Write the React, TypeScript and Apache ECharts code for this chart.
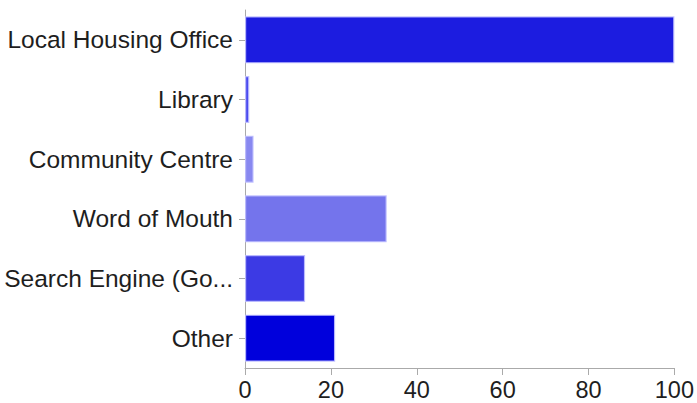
import React, { useEffect, useRef } from "react";
import * as echarts from "echarts";

const categories = [
  "Local Housing Office",
  "Library",
  "Community Centre",
  "Word of Mouth",
  "Search Engine (Go...",
  "Other",
];
const values = [100, 1, 2, 33, 14, 21];
const barColors = ["#1c1ce0", "#4a4aee", "#8888f0", "#7474ec", "#3c3ae4", "#0000dc"];
const xTicks = [0, 20, 40, 60, 80, 100];

export default function App() {
  const ref = useRef<HTMLDivElement>(null);
  useEffect(() => {
    if (!ref.current) return;
    const chart = echarts.init(ref.current, undefined, { renderer: "svg" });
    chart.setOption({
      animation: false,
      backgroundColor: "#ffffff",
      grid: { left: 245, right: 22, top: 10, bottom: 35, containLabel: false },
      xAxis: {
        type: "value",
        min: xTicks[0],
        max: xTicks[xTicks.length - 1],
        interval: 20,
        splitLine: { show: false },
        axisLine: { show: true, lineStyle: { color: "#aaaaaa", width: 1 } },
        axisTick: { show: true, length: 7, lineStyle: { color: "#aaaaaa" } },
        axisLabel: {
          color: "#1e1e1e",
          fontFamily: "Liberation Sans",
          fontSize: 23.5,
          margin: 10,
        },
      },
      yAxis: {
        type: "category",
        data: categories,
        inverse: true,
        axisLine: { show: true, lineStyle: { color: "#aaaaaa", width: 1 } },
        axisTick: { show: true, alignWithLabel: true, length: 6, lineStyle: { color: "#aaaaaa" } },
        axisLabel: {
          color: "#1e1e1e",
          fontFamily: "Liberation Sans",
          fontSize: 24.5,
          margin: 12,
        },
        splitLine: { show: false },
      },
      series: [
        {
          type: "bar",
          data: values.map((v, i) => ({
            value: v,
            itemStyle: { color: barColors[i] },
          })),
          barWidth: 47,
          itemStyle: { borderColor: "rgba(190,190,255,0.9)", borderWidth: 1.2 },
        },
      ],
    });
    return () => chart.dispose();
  }, []);
  return (
    <div
      ref={ref}
      style={{ position: "absolute", left: 0, top: 0, width: 697, height: 403 }}
    />
  );
}
